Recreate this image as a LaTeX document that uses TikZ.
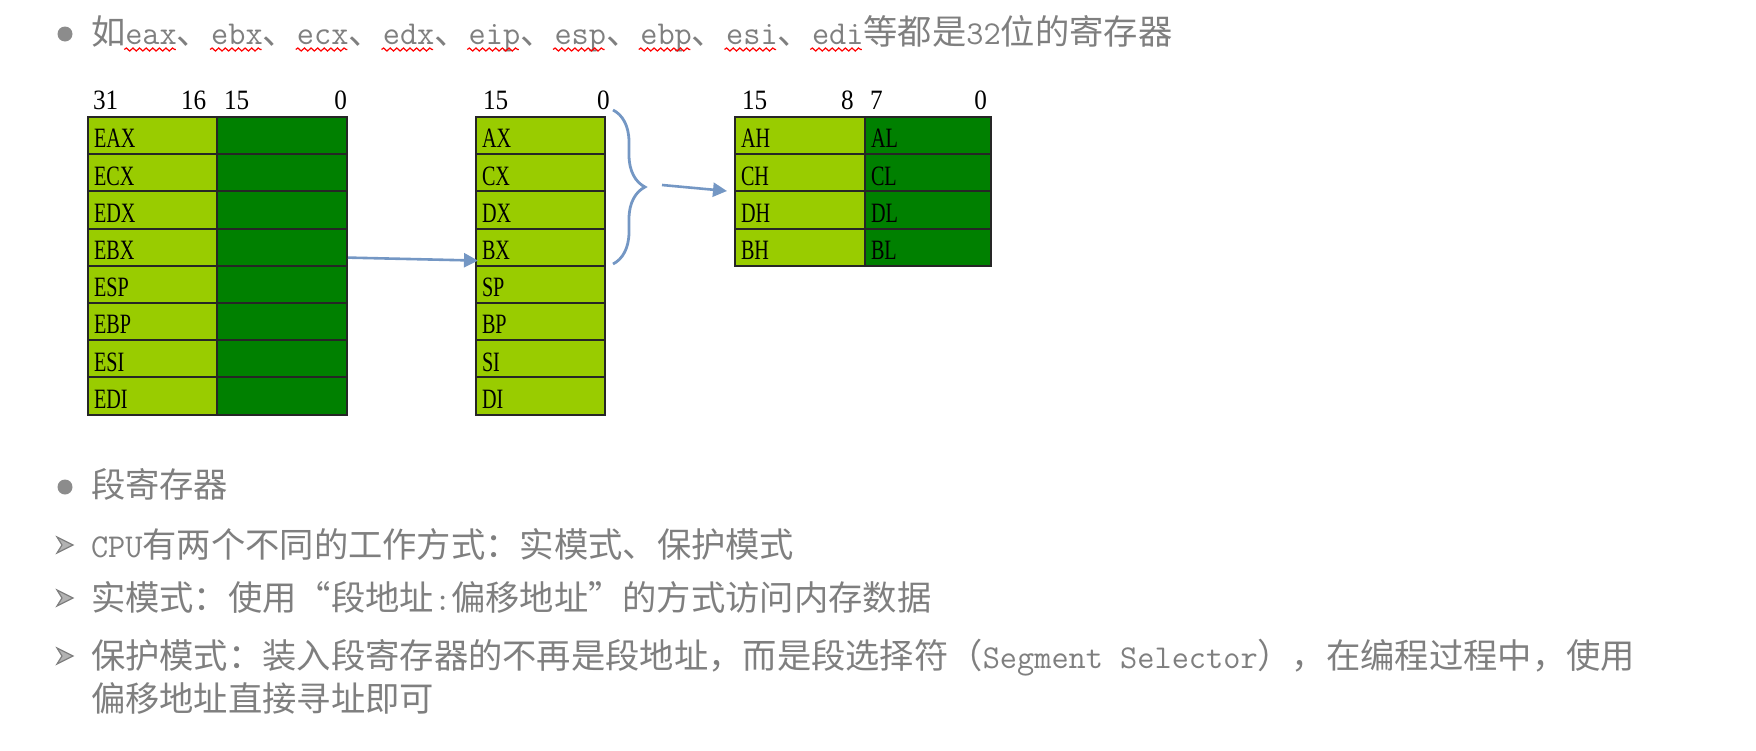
\documentclass[tikz,border=0pt]{standalone}
\usepackage{fontspec}
\usetikzlibrary{arrows.meta,decorations.pathreplacing,decorations.pathmorphing}

\newfontfamily\cjk{Noto Sans CJK SC}
\newfontfamily\latfont{Latin Modern Mono}
\newfontfamily\regfont[FakeStretch=0.72]{Liberation Serif}
\newfontfamily\numfont[FakeStretch=0.9]{Liberation Serif}

\definecolor{lgreen}{RGB}{153,204,0}
\definecolor{dgreen}{RGB}{0,128,0}
\definecolor{linkblue}{RGB}{116,151,196}
\definecolor{txtgray}{RGB}{127,127,127}

\newcommand\lat[1]{{\latfont\fontsize{16.68pt}{18pt}\selectfont #1}}
\newcommand\qo{\makebox[1em][r]{“}}
\newcommand\qc{\makebox[1em][l]{”}}

\begin{document}
\begin{tikzpicture}[x=0.5pt,y=-0.5pt,line width=1pt,
    regcell/.style={draw=black!85, anchor=north west, minimum height=18.6pt,
      inner xsep=3pt, inner ysep=0pt, align=left, text height=12.3pt, text depth=0pt,
      font=\regfont\fontsize{14pt}{16pt}\selectfont},
    hi/.style={regcell, fill=lgreen, text width=#1},
    lo/.style={regcell, fill=dgreen, text width=#1},
    bitno/.style={inner sep=0pt, font=\numfont\fontsize{14pt}{16pt}\selectfont},
    body/.style={inner sep=0pt, anchor=base west, text=txtgray,
      font=\cjk\fontsize{17.15pt}{20pt}\selectfont},
    link/.style={draw=linkblue, line width=1.3pt, -{Triangle[length=7pt,width=7pt]}},
    wavy/.style={draw=red, line width=0.6pt, decorate,
      decoration={snake, amplitude=0.75pt, segment length=3.3pt}}]

    \useasboundingbox (0,0) rectangle (1756,750);

    % 32-bit registers
    \foreach \r [count=\i from 0] in {EAX,ECX,EDX,EBX,ESP,EBP,ESI,EDI} {
      \node[hi=58.5pt] (hi32-\i) at (87,116+37.2*\i) {\r};
      \node[lo=59pt]   (lo32-\i) at (216,116+37.2*\i) {};
    }
    \node[bitno, anchor=base west] (b31)  at (92,109)  {31};
    \node[bitno, anchor=base west] (b16)  at (180,109) {16};
    \node[bitno, anchor=base west] (b15)  at (223,109) {15};
    \node[bitno, anchor=base east] (b0)   at (348,109) {0};

    % 16-bit registers
    \foreach \r [count=\i from 0] in {AX,CX,DX,BX,SP,BP,SI,DI}
      \node[hi=58.5pt] (r16-\i) at (475,116+37.2*\i) {\r};
    \node[bitno, anchor=base west] (c15) at (482,109) {15};
    \node[bitno, anchor=base west] (c0)  at (596,109) {0};

    % 8-bit halves
    \foreach \h/\l [count=\i from 0] in {AH/AL,CH/CL,DH/DL,BH/BL} {
      \node[hi=59pt] (hi8-\i) at (734,116+37.2*\i) {\h};
      \node[lo=57pt] (lo8-\i) at (864,116+37.2*\i) {\l};
    }
    \node[bitno, anchor=base west] (d15) at (741,109) {15};
    \node[bitno, anchor=base west] (d8)  at (840,109) {8};
    \node[bitno, anchor=base west] (d7)  at (869,109) {7};
    \node[bitno, anchor=base east] (d0)  at (988,109) {0};

    % brace and arrows
    \coordinate (btop) at (613,110);
    \coordinate (bbot) at (613,264);
    \coordinate (btip) at (645,187);
    \draw[linkblue, line width=1.4pt, decorate, decoration={brace, amplitude=16pt}] (btop) -- (bbot);
    \draw[link] ([yshift=-5.2pt]lo32-3.east) -- ([xshift=1.5pt,yshift=-6.7pt]r16-3.west);
    \draw[link] ([xshift=8.5pt,yshift=1pt]btip) -- ([xshift=-3.5pt,yshift=0.7pt]hi8-1.south west);

    % text
    \node[circle, fill=txtgray!90, minimum size=7.5pt, inner sep=0pt] (dot1) at (65,34) {};
    \node[circle, fill=txtgray!90, minimum size=7.5pt, inner sep=0pt] (dot2) at (65,487) {};
    \node[body] (line1) at (90,44.5) {如\lat{eax}、\lat{ebx}、\lat{ecx}、\lat{edx}、\lat{eip}、\lat{esp}、\lat{ebp}、\lat{esi}、\lat{edi}等都是\lat{32}位的寄存器};
    \foreach \k in {0,...,8}
      \draw[wavy] ({124.3+85.75*\k},49.5) -- ++(51.45,0);

    \node[body] (seg)   at (90,497) {段寄存器};
    \node[body] (cpu)   at (90,557) {\lat{CPU}有两个不同的工作方式：实模式、保护模式};
    \node[body] (real)  at (90,610) {实模式：使用\qo 段地址\lat{:}偏移地址\qc 的方式访问内存数据};
    \node[body] (prot)  at (90,668) {保护模式：装入段寄存器的不再是段地址，而是段选择符（\lat{Segment Selector}），在编程过程中，使用};
    \node[body] (prot2) at (90,711) {偏移地址直接寻址即可};

    \foreach \y in {545,598,656}
      \filldraw[fill=txtgray!60, draw=txtgray, line width=0.6pt] (57,\y-8) -- (73,\y) -- (57,\y+8) -- (62,\y) -- cycle;

\end{tikzpicture}
\end{document}
